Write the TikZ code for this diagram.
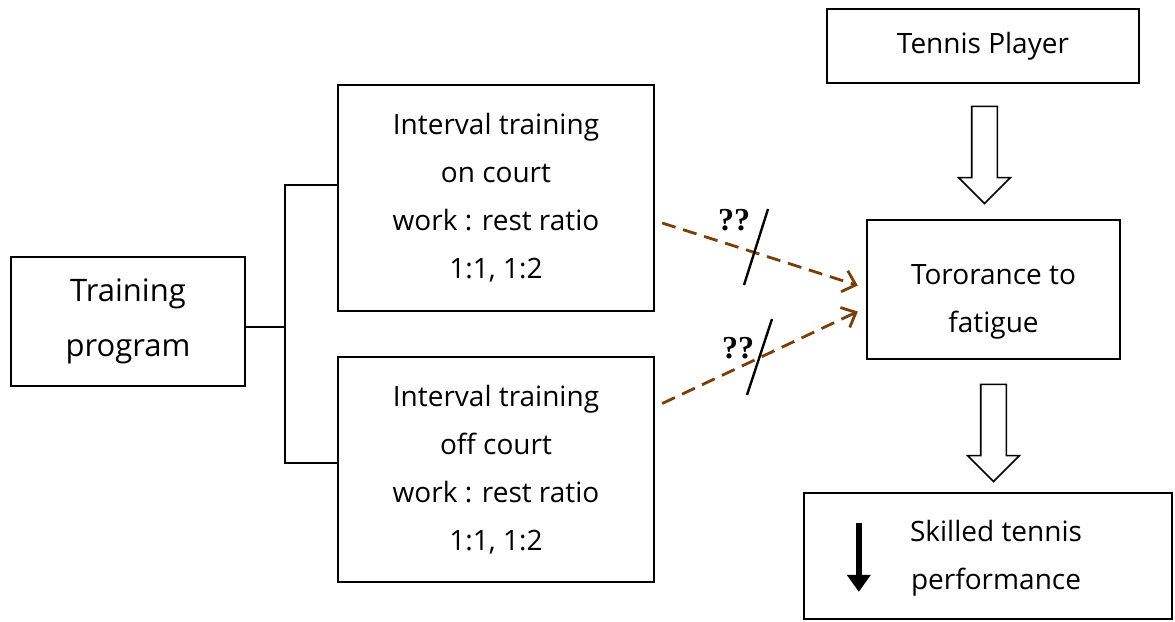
\documentclass[tikz,border=0pt]{standalone}
\usepackage{fontspec}
\setmainfont{Open Sans}
\newfontfamily\qfont{Liberation Serif}
\usetikzlibrary{arrows.meta,positioning,shapes.arrows,calc}
\definecolor{dashbrown}{RGB}{122,62,8}

\begin{document}
\begin{tikzpicture}[x=1pt,y=-1pt,
  box/.style={rectangle,draw,line width=2.4pt,align=center,inner sep=0pt,font=\fontsize{28}{48}\selectfont},
  boxtext/.style={align=center,inner sep=0pt,font=\fontsize{28}{48}\selectfont},
  fat arrow/.style={single arrow,draw,line width=1.6pt,fill=white,rotate=-90,minimum height=97pt,single arrow head extend=13pt,inner xsep=0pt,inner ysep=12pt},
  guess/.style={->,>={Straight Barb[length=12pt,width=22pt]},dashbrown,line width=2.8pt,dash pattern=on 14pt off 8pt},
  cut/.style={line width=2.4pt},
  qq/.style={font=\qfont\bfseries\fontsize{32}{32}\selectfont},
  link/.style={line width=2pt}]
\useasboundingbox (0,0) rectangle (1175,621);
\node[box,minimum width=234pt,minimum height=129pt,font=\fontsize{31}{55}\selectfont] (train) at (128,321.5) {Training\\program};
\node[box,minimum width=316pt,minimum height=226pt] (on) at (496,198) {Interval training\\on court\\work : rest ratio\\1:1, 1:2};
\node[box,minimum width=316pt,minimum height=225pt] (off) at (496,469.5) {Interval training\\off court\\work : rest ratio\\1:1, 1:2};
\node[box,minimum width=312pt,minimum height=74pt] (player) at (983,46) {Tennis Player};
\node[box,minimum width=253pt,minimum height=139pt] (tol) at (993.5,289.5) {};
\node[boxtext] (tol text) at ($(tol)+(0,12)$) {Tororance to\\fatigue};
\node[box,minimum width=368pt,minimum height=126pt] (skill) at (988,556) {};
\node[boxtext] (skill text) at ($(skill)+(8,2)$) {Skilled tennis\\performance};
% fork from the training program
\coordinate (fork) at (285,327);
\draw[link] (train.east |- fork) -- (fork);
\draw[link] ($(on.west)+(0,-13)$) -| (fork) |- ($(off.west)+(0,-6.5)$);
% hollow arrows
\node[fat arrow] (a1) at (984.5,148.5) {};
\node[fat arrow] (a2) at (993.5,426.5) {};
% unknown effect
\draw[guess] ($(on.east)+(7,25)$) -- ($(tol.west)+(-8,-4)$);
\draw[guess] ($(off.east)+(7,-66)$) -- ($(tol.west)+(-8,22)$);
\draw[cut] (768,209) -- (744,285);
\draw[cut] (772,319) -- (747,395);
\node[qq] (q1) at (734,220) {??};
\node[qq] (q2) at (738,348) {??};
% decrease
\draw[line width=6pt,-{Triangle[length=17pt,width=23pt]}] ($(skill.north west)+(56,31)$) -- ($(skill.north west)+(56,100)$);
\end{tikzpicture}
\end{document}
